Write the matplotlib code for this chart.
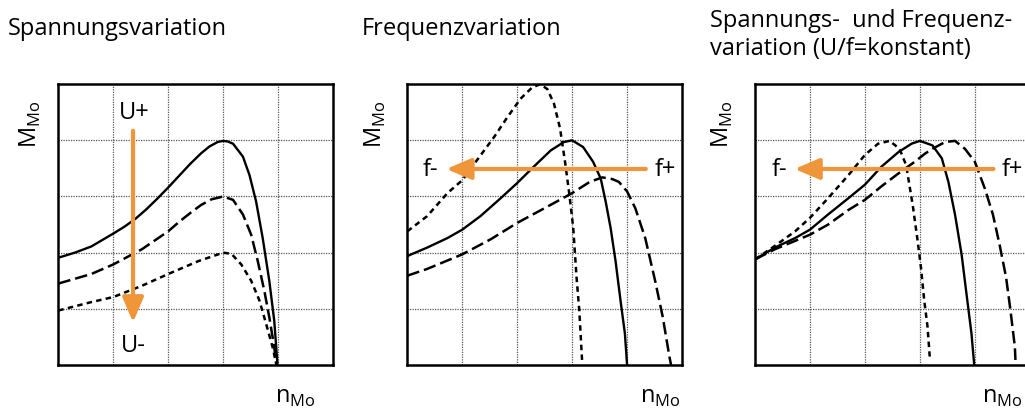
import matplotlib
matplotlib.use("Agg")
import matplotlib.pyplot as plt

plt.rcParams['font.family'] = ['Open Sans', 'DejaVu Sans']
plt.rcParams['mathtext.fontset'] = 'custom'
plt.rcParams['mathtext.rm'] = 'Open Sans'

ORANGE = "#F0963A"

# ── data (x = n_Mo, y = M_Mo, grid units) ──────────────────────────────────
# panel 1: Spannungsvariation
p1_solid_x = [0, 0.3, 0.6, 1.0, 1.2, 1.4, 1.6, 1.8, 2.0, 2.2, 2.4, 2.6, 2.75, 2.9, 3.0, 3.08,
              3.18, 3.36, 3.48, 3.6, 3.72, 3.84, 3.93, 3.99]
p1_solid_y = [1.91, 2.0, 2.11, 2.34, 2.46, 2.6, 2.77, 2.96, 3.16, 3.37, 3.58, 3.77, 3.89, 3.97, 3.99, 3.98,
              3.94, 3.71, 3.38, 2.91, 2.26, 1.5, 0.79, 0]
p1_mid_x = [0, 0.6, 1.0, 1.52, 2.0, 2.2, 2.42, 2.6, 2.79, 3.0, 3.18, 3.36, 3.51, 3.63, 3.75,
            3.84, 3.93, 3.97]
p1_mid_y = [1.45, 1.62, 1.79, 2.06, 2.38, 2.55, 2.72, 2.85, 2.95, 3.0, 2.94, 2.68, 2.32, 1.85, 1.32,
            0.85, 0.32, 0]
p1_low_x = [0, 0.6, 1.0, 1.52, 2.0, 2.55, 3.0, 3.15, 3.33, 3.51, 3.66, 3.78, 3.9, 3.97]
p1_low_y = [0.97, 1.12, 1.21, 1.41, 1.62, 1.85, 2.0, 1.98, 1.79, 1.5, 1.15, 0.74, 0.32, 0]

# panel 2: Frequenzvariation
p2_solid_x = [0, 0.36, 0.73, 1.0, 1.33, 1.7, 2.0, 2.3, 2.61, 2.85, 3.0, 3.2, 3.38, 3.52,
              3.61, 3.7, 3.79, 3.88, 3.96, 4.0]
p2_solid_y = [1.94, 2.09, 2.26, 2.41, 2.65, 2.97, 3.24, 3.53, 3.82, 3.97, 4.0, 3.88, 3.62, 3.32,
              2.91, 2.44, 1.85, 1.15, 0.56, 0]
p2_fminus_x = [0, 0.36, 0.73, 1.0, 1.27, 1.58, 1.82, 2.06, 2.27, 2.42, 2.55, 2.67, 2.78,
               2.87, 2.95, 3.02, 3.08, 3.13, 3.18]
p2_fminus_y = [2.38, 2.65, 3.06, 3.29, 3.65, 4.06, 4.41, 4.74, 4.94, 5.0, 4.91, 4.65, 4.21,
               3.62, 3.03, 2.44, 1.56, 0.97, 0.09]
p2_fplus_x = [0, 0.36, 1.0, 1.52, 2.0, 2.55, 3.0, 3.32, 3.55, 3.73, 3.85, 4.0, 4.15, 4.33,
              4.51, 4.65, 4.77, 4.8]
p2_fplus_y = [1.59, 1.71, 1.97, 2.24, 2.53, 2.82, 3.06, 3.26, 3.34, 3.31, 3.26, 3.09, 2.79,
              2.26, 1.5, 0.85, 0.15, 0]

# panel 3: U/f = konstant
p3_solid_x = [0, 0.36, 0.73, 1.0, 1.33, 1.7, 2.0, 2.3, 2.61, 2.85, 3.0, 3.23, 3.4, 3.52,
              3.64, 3.76, 3.85, 3.94, 3.99]
p3_solid_y = [1.88, 2.09, 2.26, 2.41, 2.68, 2.97, 3.21, 3.53, 3.79, 3.94, 3.99, 3.91, 3.68, 3.26,
              2.68, 1.97, 1.26, 0.56, 0]
p3_fminus_x = [0, 0.36, 0.73, 1.0, 1.33, 1.7, 2.0, 2.24, 2.45, 2.63, 2.75, 2.87, 2.96, 3.02,
               3.08, 3.14, 3.18]
p3_fminus_y = [1.88, 2.12, 2.38, 2.62, 2.97, 3.38, 3.74, 3.94, 3.99, 3.85, 3.56, 2.85, 2.21, 1.74,
               1.15, 0.68, 0.15]
p3_fplus_x = [0, 0.36, 0.73, 1.0, 1.33, 1.7, 2.0, 2.3, 2.61, 2.91, 3.09, 3.23, 3.46, 3.64,
              3.82, 4.0, 4.18, 4.33, 4.45, 4.57, 4.65, 4.73, 4.74]
p3_fplus_y = [1.88, 2.06, 2.21, 2.32, 2.5, 2.76, 2.94, 3.18, 3.41, 3.62, 3.76, 3.85, 3.97, 3.99,
              3.85, 3.62, 3.15, 2.68, 2.15, 1.56, 0.97, 0.32, 0.09]

titles = ["Spannungsvariation", "Frequenzvariation",
          "Spannungs-  und Frequenz-\nvariation (U/f=konstant)"]

SOLID = dict(color="black", lw=1.7, solid_joinstyle="round")
LONG = dict(color="black", lw=1.8, dashes=(5, 2))
SHORT = dict(color="black", lw=1.8, dashes=(2.2, 1.7))

fig = plt.figure(figsize=(10.25, 4.1), dpi=100)
lefts = [0.0569, 0.3974, 0.7366]
axes = [fig.add_axes([l, 0.1073, 0.268, 0.685]) for l in lefts]

for ax in axes:
    ax.set_xlim(0, 5)
    ax.set_ylim(0, 5)
    ax.set_xticks([1, 2, 3, 4])
    ax.set_yticks([1, 2, 3, 4])
    ax.tick_params(length=0, labelbottom=False, labelleft=False)
    ax.grid(True, color="#555555", lw=0.9, ls=(0, (1, 1)))
    for sp in ax.spines.values():
        sp.set_linewidth(1.8)

def arrow(ax, start, tip):
    ax.annotate("", xy=tip, xytext=start,
                arrowprops=dict(arrowstyle="-|>,head_length=0.75,head_width=0.32",
                                color=ORANGE, lw=3, mutation_scale=20,
                                shrinkA=0, shrinkB=0))

# panel 1
ax = axes[0]
ax.plot(p1_solid_x, p1_solid_y, **SOLID)
ax.plot(p1_mid_x, p1_mid_y, **LONG)
ax.plot(p1_low_x, p1_low_y, **SHORT)
arrow(ax, (1.36, 4.17), (1.36, 0.76))
ax.text(1.38, 4.5, "U+", fontsize=17, ha="center", va="center")
ax.text(1.36, 0.36, "U-", fontsize=17, ha="center", va="center")

# panel 2
ax = axes[1]
ax.plot(p2_solid_x, p2_solid_y, **SOLID)
ax.plot(p2_fminus_x, p2_fminus_y, **SHORT)
ax.plot(p2_fplus_x, p2_fplus_y, **LONG)
arrow(ax, (4.34, 3.49), (0.71, 3.49))
ax.text(0.42, 3.49, "f-", fontsize=17, ha="center", va="center")
ax.text(4.7, 3.49, "f+", fontsize=17, ha="center", va="center")

# panel 3
ax = axes[2]
ax.plot(p3_solid_x, p3_solid_y, **SOLID)
ax.plot(p3_fminus_x, p3_fminus_y, **SHORT)
ax.plot(p3_fplus_x, p3_fplus_y, **LONG)
arrow(ax, (4.34, 3.49), (0.72, 3.49))
ax.text(0.45, 3.49, "f-", fontsize=17, ha="center", va="center")
ax.text(4.68, 3.49, "f+", fontsize=17, ha="center", va="center")

# axis labels
ylab_x = [-0.10, -0.116, -0.12]
xlab_x = [0.862, 0.92, 0.9]
for ax, yx, xx in zip(axes, ylab_x, xlab_x):
    ax.text(yx, 0.862, r"M$_\mathrm{Mo}$", rotation=90, fontsize=17,
            ha="center", va="center", transform=ax.transAxes)
    ax.text(xx, -0.11, r"n$_\mathrm{Mo}$", fontsize=17,
            ha="center", va="center", transform=ax.transAxes)

# titles
fig.text(0.008, 0.93, titles[0], fontsize=17, ha="left", va="center")
fig.text(0.353, 0.93, titles[1], fontsize=17, ha="left", va="center")
fig.text(0.693, 0.915, titles[2], fontsize=17, ha="left", va="center",
         linespacing=1.25)

fig.savefig("out.png", dpi=100)
